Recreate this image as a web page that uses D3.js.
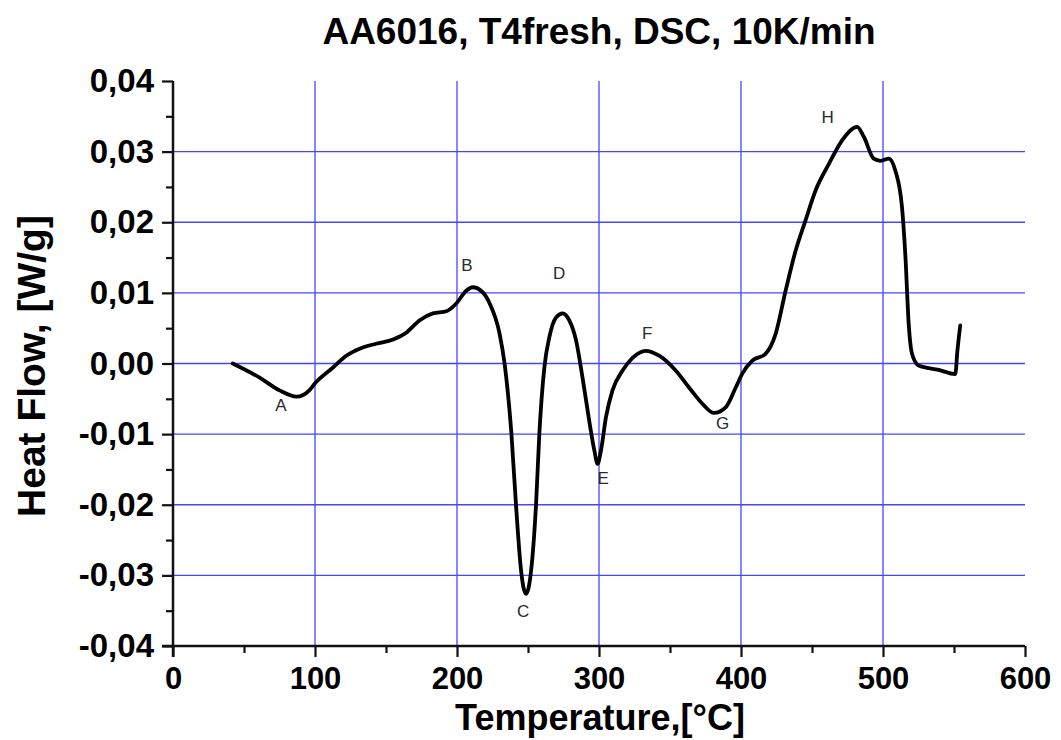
<!DOCTYPE html>
<html>
<head>
<meta charset="utf-8">
<script src="https://cdn.jsdelivr.net/npm/d3@7"></script>
<style>
  body { margin: 0; background: #fff; }
  svg { display: block; }
  text { font-family: "Liberation Sans", Arial, sans-serif; }
</style>
</head>
<body>
<svg id="chart" width="1061" height="740"></svg>
<script>
// temperature [°C] and heat flow [W/g]
var temps = [42, 61, 75, 87, 96, 100, 112.5, 122, 131.5, 143, 155, 164.5, 173.5, 183, 192.5, 199.5, 206.5, 211,
  218, 223, 230, 233.5, 238.3, 241.8, 245.1, 248.6, 252.2, 255.7, 258, 261.5, 265, 269.7, 274.4, 279.1,
  283.8, 288.4, 293.1, 296.7, 299, 301.4, 304.9, 309.5, 316.6, 323.6, 333, 342.4, 354, 363.4, 372.8, 381,
  389.2, 396.3, 401, 408, 417.4, 424.4, 431.4, 438.5, 445.5, 452.5, 462, 471.2, 481.8, 486.5, 493.5,
  498.2, 504, 508.7, 513.4, 515.8, 518.1, 520.4, 525.1, 539.2, 550.9, 552.4, 554.4];
var heatFlow = [0, -0.0020, -0.0038, -0.0047, -0.0038, -0.0028, -0.0006, 0.0011, 0.0021, 0.0028, 0.0034, 0.0044,
  0.0061, 0.0071, 0.0074, 0.0085, 0.0103, 0.0108, 0.0101, 0.0085, 0.0042, 0, -0.0099, -0.0208, -0.0293,
  -0.0326, -0.0293, -0.0198, -0.0099, -0.0006, 0.0037, 0.0065, 0.0071, 0.0061, 0.0033, -0.0020, -0.0081,
  -0.0123, -0.0142, -0.0123, -0.0076, -0.0038, -0.0010, 0.0008, 0.0018, 0.0011, -0.0010, -0.0034, -0.0057,
  -0.0070, -0.0062, -0.0034, -0.0014, 0.0004, 0.0014, 0.0042, 0.0103, 0.0160, 0.0203, 0.0245, 0.0283,
  0.0316, 0.0335, 0.0321, 0.0290, 0.0287, 0.0290, 0.0273, 0.0221, 0.0151, 0.0056, 0.0014, -0.0003,
  -0.0009, -0.0015, 0.0018, 0.0054];

// peak letters and where they sit (data units)
var peakNames = ["A", "B", "C", "D", "E", "F", "G", "H"];
var peakT = [76, 207, 246.5, 272, 303, 334, 387, 461];
var peakV = [-0.0060, 0.0139, -0.0351, 0.0128, -0.0163, 0.0043, -0.0085, 0.0349];

var xTicks = [0, 100, 200, 300, 400, 500, 600];
var xMinor = [50, 150, 250, 350, 450, 550];
var yTicks = [-0.04, -0.03, -0.02, -0.01, 0, 0.01, 0.02, 0.03, 0.04];
var yMinor = [-0.035, -0.025, -0.015, -0.005, 0.005, 0.015, 0.025, 0.035];

var svg = d3.select("#chart");
var mLeft = 173, mRight = 1025, mTop = 81, mBottom = 646;

var x = d3.scaleLinear().domain([0, 600]).range([mLeft, mRight]);
var y = d3.scaleLinear().domain([-0.04, 0.04]).range([mBottom, mTop]);

var fmt = function(d){
  return d3.format(".2f")(d).replace("−", "-").replace(".", ",");
};

// grid
svg.append("g").selectAll("line")
  .data(xTicks.filter(function(d){ return d > 0 && d < 600; }))
  .enter().append("line")
  .attr("x1", function(d){ return x(d); })
  .attr("x2", function(d){ return x(d); })
  .attr("y1", y(-0.04)).attr("y2", y(0.04))
  .attr("stroke", "#4646ff").attr("stroke-width", 1.3);

svg.append("g").selectAll("line")
  .data(yTicks.filter(function(d){ return Math.abs(d) < 0.035; }))
  .enter().append("line")
  .attr("x1", x(0)).attr("x2", x(600))
  .attr("y1", function(d){ return y(d); })
  .attr("y2", function(d){ return y(d); })
  .attr("stroke", "#4646ff").attr("stroke-width", 1.3);

// axes
var xAxis = svg.append("g").attr("transform", "translate(0," + mBottom + ")")
  .call(d3.axisBottom(x).tickValues(xTicks).tickSize(11).tickPadding(10).tickFormat(d3.format("d")));
var xAxisMinor = svg.append("g").attr("transform", "translate(0," + mBottom + ")")
  .call(d3.axisBottom(x).tickValues(xMinor).tickSize(7).tickFormat(""));
var yAxis = svg.append("g").attr("transform", "translate(" + mLeft + ",0)")
  .call(d3.axisLeft(y).tickValues(yTicks).tickSize(11).tickPadding(8).tickFormat(fmt));
var yAxisMinor = svg.append("g").attr("transform", "translate(" + mLeft + ",0)")
  .call(d3.axisLeft(y).tickValues(yMinor).tickSize(7).tickFormat(""));

[xAxis, xAxisMinor, yAxis, yAxisMinor].forEach(function(g){
  g.select(".domain").attr("stroke", "#111").attr("stroke-width", 2.5);
  g.selectAll(".tick line").attr("stroke", "#111").attr("stroke-width", 2.2);
  g.selectAll(".tick text").attr("fill", "#000")
    .style("font-size", "31px").style("font-weight", "bold");
});
yAxis.selectAll(".tick text").style("font-size", "33px");
xAxisMinor.select(".domain").remove();
yAxisMinor.select(".domain").remove();
xAxis.select(".domain").attr("d", "M" + (mLeft - 11) + ",0H" + mRight);
yAxis.select(".domain").attr("d", "M0," + (mBottom + 11) + "V" + mTop);

// curve
var line = d3.line()
  .x(function(d, i){ return x(temps[i]); })
  .y(function(d, i){ return y(heatFlow[i]); })
  .curve(d3.curveMonotoneX);

svg.append("path")
  .attr("d", line(temps))
  .attr("fill", "none")
  .attr("stroke", "#000")
  .attr("stroke-width", 3.8)
  .attr("stroke-linejoin", "round")
  .attr("stroke-linecap", "round");

// peak letters
svg.append("g").selectAll("text")
  .data(peakNames)
  .enter().append("text")
  .attr("x", function(d, i){ return x(peakT[i]); })
  .attr("y", function(d, i){ return y(peakV[i]); })
  .attr("text-anchor", "middle")
  .attr("dominant-baseline", "central")
  .style("font-size", "17px")
  .attr("fill", "#2a2a2a")
  .text(function(d){ return d; });

// titles
svg.append("text")
  .attr("x", 599).attr("y", 44)
  .attr("text-anchor", "middle")
  .style("font-size", "37px").style("font-weight", "bold")
  .text("AA6016, T4fresh, DSC, 10K/min");

svg.append("text")
  .attr("x", 600).attr("y", 730)
  .attr("text-anchor", "middle")
  .style("font-size", "36px").style("font-weight", "bold")
  .text("Temperature,[°C]");

svg.append("text")
  .attr("transform", "translate(45,366) rotate(-90)")
  .attr("text-anchor", "middle")
  .style("font-size", "39px").style("font-weight", "bold")
  .text("Heat Flow, [W/g]");
</script>
</body>
</html>
